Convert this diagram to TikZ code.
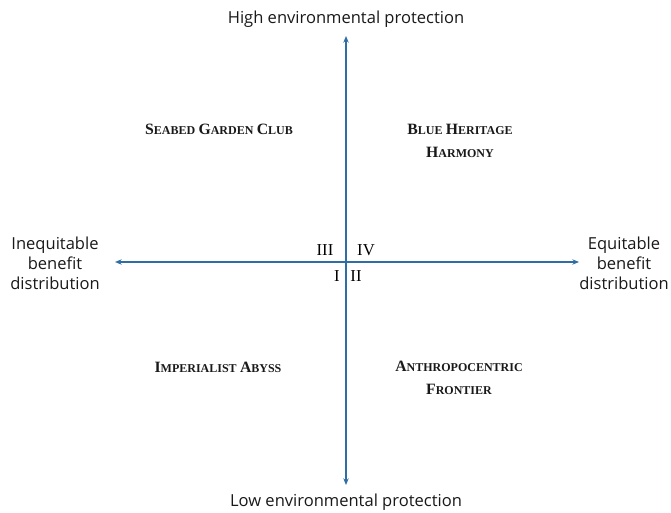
\documentclass[tikz,border=0pt]{standalone}
\usepackage{fontspec}
\setmainfont{Liberation Serif}
\setsansfont{Open Sans}
\usepackage{tikz}
\usetikzlibrary{arrows.meta, positioning}

\definecolor{axisblue}{HTML}{2F6EA5}
\newcommand{\smcap}[2]{{\fontsize{11.8}{14}\selectfont #1}{\fontsize{9}{14}\selectfont #2}}

\begin{document}
\begin{tikzpicture}[
    x=0.75pt, y=-0.75pt,
    axis/.style={{Stealth[length=5pt,width=4pt]}-{Stealth[length=5pt,width=4pt]}, axisblue, line width=1.1pt},
    endlabel/.style={font=\sffamily\fontsize{12.4}{15}\selectfont, align=center, text=black!90},
    quad/.style={font=\bfseries, align=center, text=black!90, inner sep=0pt},
    numeral/.style={font=\fontsize{12.5}{14}\selectfont, inner sep=0pt}
]
    \useasboundingbox (0,0) rectangle (671,513);

    % Axis end points
    \coordinate (top) at (346,36);
    \coordinate (bottom) at (346,485);
    \coordinate (left) at (115,262);
    \coordinate (right) at (579,262);

    % Axes
    \draw[axis] (bottom) -- (top);
    \draw[axis] (left) -- (right);

    % Axis labels
    \node[endlabel] (high) at (346,19) {High environmental protection};
    \node[endlabel] (low) at (346,502) {Low environmental protection};
    \node[endlabel] (ineq) at (55,263) {Inequitable\\benefit\\distribution};
    \node[endlabel] (eq) at (624,263) {Equitable\\benefit\\distribution};

    % Quadrant numbers
    \node[numeral] (q3) at (325,250) {III};
    \node[numeral] (q4) at (366,250) {IV};
    \node[numeral] (q1) at (337,276) {I};
    \node[numeral] (q2) at (356,276) {II};

    % Scenario names
    \node[quad] (seabed) at (219,129) {\smcap{S}{EABED} \smcap{G}{ARDEN} \smcap{C}{LUB}};
    \node[quad] (heritage) at (460,141) {\smcap{B}{LUE} \smcap{H}{ERITAGE}\\[5pt]\smcap{H}{ARMONY}};
    \node[quad] (abyss) at (218,367) {\smcap{I}{MPERIALIST} \smcap{A}{BYSS}};
    \node[quad] (frontier) at (459,378) {\smcap{A}{NTHROPOCENTRIC}\\[5pt]\smcap{F}{RONTIER}};

\end{tikzpicture}
\end{document}
